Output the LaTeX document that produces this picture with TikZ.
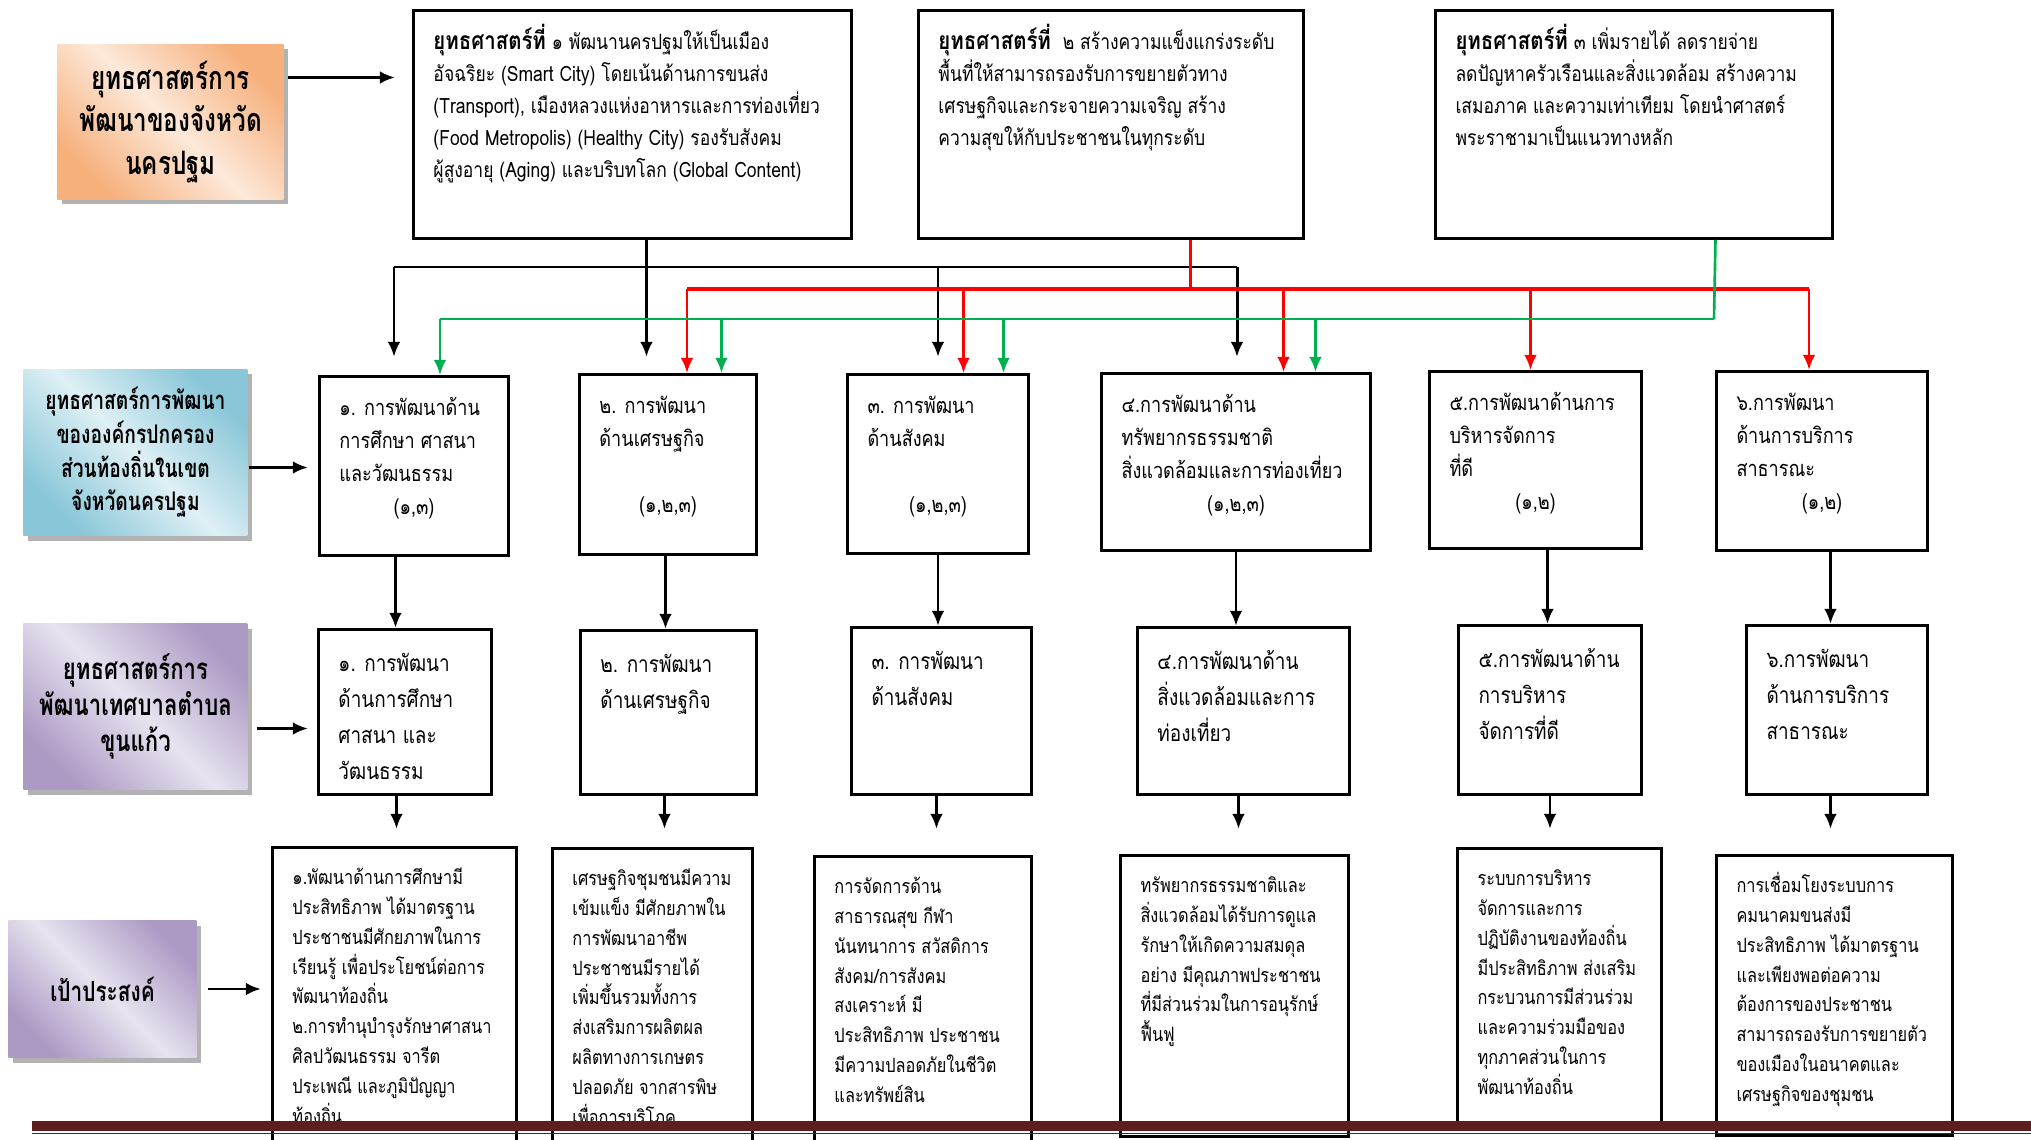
\documentclass[tikz,border=0pt]{standalone}
\usepackage{fontspec}
\usepackage{tikz}
\usetikzlibrary{arrows.meta,shadows}
\newfontfamily\thaifont[Script=Thai,FakeStretch=0.83]{Loma}
\newfontfamily\platefont[Script=Thai,FakeStretch=0.75]{Loma}
\newcommand{\boxtxt}[3]{\parbox[c][#2][t]{#1}{\strut\begin{tabular}[t]{@{}l@{}}#3\end{tabular}}}
\definecolor{peach}{RGB}{246,176,124}
\definecolor{peachlt}{RGB}{253,233,218}
\definecolor{sky}{RGB}{136,198,216}
\definecolor{skylt}{RGB}{222,240,245}
\definecolor{lilac}{RGB}{172,154,196}
\definecolor{lilaclt}{RGB}{232,227,240}
\definecolor{bandbrown}{RGB}{94,30,30}
\definecolor{linkred}{RGB}{255,0,0}
\definecolor{linkgreen}{RGB}{0,176,80}
\tikzset{
	box/.style={draw,anchor=north west,inner xsep=0.2cm,inner ysep=0.16cm},
	topbox/.style={box,inner ysep=0.14cm,font=\thaifont\fontsize{6}{9.1}\selectfont},
	midbox/.style={box,font=\thaifont\fontsize{6.2}{9.4}\selectfont},
	subbox/.style={box,inner ysep=0.17cm,font=\thaifont\fontsize{6.5}{10.2}\selectfont},
	aimbox/.style={box,font=\thaifont\fontsize{5.6}{8.5}\selectfont},
	plate/.style={anchor=north west,align=center,drop shadow={shadow xshift=0.5mm,shadow yshift=-0.5mm,fill=black!30,opacity=1},font=\platefont\bfseries\fontsize{7.3}{9.6}\selectfont},
	redlink/.style={draw=linkred,line width=0.75pt},
	greenlink/.style={draw=linkgreen,line width=0.75pt}
}
\begin{document}
\begin{tikzpicture}[line width=0.85pt,>={Latex[length=4.3pt,width=3.6pt]}]
	\useasboundingbox (0,0) rectangle (20.31,-11.40);
	%LEFT PLATES
	\node[plate,top color=peach,bottom color=peach,middle color=peachlt,shading angle=-45,minimum width=2.26cm,minimum height=1.55cm,font=\platefont\bfseries\fontsize{9.2}{12}\selectfont] (plan) at (0.56,-0.43) {ยุทธศาสตร์การ\\พัฒนาของจังหวัด\\นครปฐม};
	\node[plate,top color=sky,bottom color=sky,middle color=skylt,shading angle=-45,minimum width=2.24cm,minimum height=1.66cm] (local) at (0.22,-3.68) {ยุทธศาสตร์การพัฒนา\\ขององค์กรปกครอง\\ส่วนท้องถิ่นในเขต\\จังหวัดนครปฐม};
	\node[plate,top color=lilac,bottom color=lilac,middle color=lilaclt,shading angle=-45,minimum width=2.24cm,minimum height=1.66cm,font=\platefont\bfseries\fontsize{8.4}{10.2}\selectfont] (town) at (0.22,-6.22) {ยุทธศาสตร์การ\\พัฒนาเทศบาลตำบล\\ขุนแก้ว};
	\node[plate,top color=lilac,bottom color=lilac,middle color=lilaclt,shading angle=-45,minimum width=1.88cm,minimum height=1.37cm,font=\platefont\bfseries\fontsize{7.9}{10}\selectfont] (goal) at (0.07,-9.19) {เป้าประสงค์};
	
	%STRATEGIES
	\node[topbox] (s1) at (4.12,-0.09) {\boxtxt{3.98cm}{2.0cm}{{\bfseries\fontsize{7}{9.1}\selectfont ยุทธศาสตร์ที่} ๑ พัฒนานครปฐมให้เป็นเมือง\\อัจฉริยะ (Smart City) โดยเน้นด้านการขนส่ง\\(Transport), เมืองหลวงแห่งอาหารและการท่องเที่ยว\\(Food Metropolis) (Healthy City) รองรับสังคม\\ผู้สูงอายุ (Aging) และบริบทโลก (Global Content)}};
	\node[topbox] (s2) at (9.17,-0.09) {\boxtxt{3.45cm}{2.0cm}{{\bfseries\fontsize{7}{9.1}\selectfont ยุทธศาสตร์ที่}\ \ ๒ สร้างความแข็งแกร่งระดับ\\พื้นที่ให้สามารถรองรับการขยายตัวทาง\\เศรษฐกิจและกระจายความเจริญ สร้าง\\ความสุขให้กับประชาชนในทุกระดับ}};
	\node[topbox] (s3) at (14.34,-0.09) {\boxtxt{3.57cm}{2.0cm}{{\bfseries\fontsize{7}{9.1}\selectfont ยุทธศาสตร์ที่} ๓ เพิ่มรายได้ ลดรายจ่าย\\ลดปัญหาครัวเรือนและสิ่งแวดล้อม สร้างความ\\เสมอภาค และความเท่าเทียม โดยนำศาสตร์\\พระราชามาเป็นแนวทางหลัก}};
	
	%LOCAL STRATEGIES
	\node[midbox] (r2a) at (3.18,-3.75) {\boxtxt{1.49cm}{1.47cm}{๑. การพัฒนาด้าน\\การศึกษา ศาสนา\\และวัฒนธรรม\\\makebox[1.49cm]{(๑,๓)}}};
	\node[midbox] (r2b) at (5.78,-3.73) {\boxtxt{1.37cm}{1.48cm}{๒. การพัฒนา\\ด้านเศรษฐกิจ\\\mbox{}\\\makebox[1.37cm]{(๑,๒,๓)}}};
	\node[midbox] (r2c) at (8.46,-3.73) {\boxtxt{1.41cm}{1.47cm}{๓. การพัฒนา\\ด้านสังคม\\\mbox{}\\\makebox[1.41cm]{(๑,๒,๓)}}};
	\node[midbox] (r2d) at (11.00,-3.72) {\boxtxt{2.29cm}{1.45cm}{๔.การพัฒนาด้าน\\ทรัพยากรธรรมชาติ\\สิ่งแวดล้อมและการท่องเที่ยว\\\makebox[2.29cm]{(๑,๒,๓)}}};
	\node[midbox] (r2e) at (14.28,-3.70) {\boxtxt{1.72cm}{1.45cm}{๕.การพัฒนาด้านการ\\บริหารจัดการ\\ที่ดี\\\makebox[1.72cm]{(๑,๒)}}};
	\node[midbox] (r2f) at (17.15,-3.70) {\boxtxt{1.71cm}{1.47cm}{๖.การพัฒนา\\ด้านการบริการ\\สาธารณะ\\\makebox[1.71cm]{(๑,๒)}}};
	
	%TOWN STRATEGIES
	\node[subbox] (r3a) at (3.17,-6.28) {\boxtxt{1.33cm}{1.31cm}{๑. การพัฒนา\\ด้านการศึกษา\\ศาสนา และ\\วัฒนธรรม}};
	\node[subbox] (r3b) at (5.79,-6.29) {\boxtxt{1.36cm}{1.30cm}{๒. การพัฒนา\\ด้านเศรษฐกิจ}};
	\node[subbox] (r3c) at (8.50,-6.26) {\boxtxt{1.40cm}{1.33cm}{๓. การพัฒนา\\ด้านสังคม}};
	\node[subbox] (r3d) at (11.36,-6.26) {\boxtxt{1.72cm}{1.33cm}{๔.การพัฒนาด้าน\\สิ่งแวดล้อมและการ\\ท่องเที่ยว}};
	\node[subbox] (r3e) at (14.57,-6.24) {\boxtxt{1.43cm}{1.35cm}{๕.การพัฒนาด้าน\\การบริหาร\\จัดการที่ดี}};
	\node[subbox] (r3f) at (17.45,-6.24) {\boxtxt{1.41cm}{1.35cm}{๖.การพัฒนา\\ด้านการบริการ\\สาธารณะ}};
	
	%GOALS
	\node[aimbox] (r4a) at (2.71,-8.46) {\boxtxt{2.04cm}{2.82cm}{๑.พัฒนาด้านการศึกษามี\\ประสิทธิภาพ ได้มาตรฐาน\\ประชาชนมีศักยภาพในการ\\เรียนรู้ เพื่อประโยชน์ต่อการ\\พัฒนาท้องถิ่น\\๒.การทำนุบำรุงรักษาศาสนา\\ศิลปวัฒนธรรม จารีต\\ประเพณี และภูมิปัญญา\\ท้องถิ่น}};
	\node[aimbox] (r4b) at (5.51,-8.47) {\boxtxt{1.60cm}{2.82cm}{เศรษฐกิจชุมชนมีความ\\เข้มแข็ง มีศักยภาพใน\\การพัฒนาอาชีพ\\ประชาชนมีรายได้\\เพิ่มขึ้นรวมทั้งการ\\ส่งเสริมการผลิตผล\\ผลิตทางการเกษตร\\ปลอดภัย จากสารพิษ\\เพื่อการบริโภค}};
	\node[aimbox] (r4c) at (8.13,-8.55) {\boxtxt{1.77cm}{2.74cm}{การจัดการด้าน\\สาธารณสุข กีฬา\\นันทนาการ สวัสดิการ\\สังคม/การสังคม\\สงเคราะห์ มี\\ประสิทธิภาพ ประชาชน\\มีความปลอดภัยในชีวิต\\และทรัพย์สิน}};
	\node[aimbox] (r4d) at (11.19,-8.54) {\boxtxt{1.88cm}{2.49cm}{ทรัพยากรธรรมชาติและ\\สิ่งแวดล้อมได้รับการดูแล\\รักษาให้เกิดความสมดุล\\อย่าง มีคุณภาพประชาชน\\ที่มีส่วนร่วมในการอนุรักษ์\\ฟื้นฟู}};
	\node[aimbox] (r4e) at (14.56,-8.47) {\boxtxt{1.64cm}{2.48cm}{ระบบการบริหาร\\จัดการและการ\\ปฏิบัติงานของท้องถิ่น\\มีประสิทธิภาพ ส่งเสริม\\กระบวนการมีส่วนร่วม\\และความร่วมมือของ\\ทุกภาคส่วนในการ\\พัฒนาท้องถิ่น}};
	\node[aimbox] (r4f) at (17.15,-8.54) {\boxtxt{1.96cm}{2.48cm}{การเชื่อมโยงระบบการ\\คมนาคมขนส่งมี\\ประสิทธิภาพ ได้มาตรฐาน\\และเพียงพอต่อความ\\ต้องการของประชาชน\\สามารถรองรับการขยายตัว\\ของเมืองในอนาคตและ\\เศรษฐกิจของชุมชน}};
	
	%LEFT ARROWS
	\draw[->,shorten <=0.3mm,shorten >=1.7mm] ([yshift=4.45mm]plan.east)--([yshift=4.45mm]plan.east -| s1.west);
	\draw[->,shorten >=1mm] ([yshift=-1.5mm]local.east)--([yshift=-1.5mm]local.east -| r2a.west);
	\draw[->,shorten <=0.8mm,shorten >=0.9mm] ([yshift=-2.2mm]town.east)--([yshift=-2.2mm]town.east -| r3a.west);
	\draw[->,shorten <=1mm,shorten >=1mm] (goal.east)--(goal.east -| r4a.west);
	
	%STRATEGY 1
	\coordinate (k1) at (3.94,-2.67);
	\coordinate (k2) at (12.37,-2.67);
	\draw (k1)--(k2);
	\draw[->,shorten >=1.6mm] ([xshift=1.4mm]s1.south)--([xshift=1.4mm]s1.south |- r2b.north);
	\draw[->,shorten >=1.8mm] (k1)--(k1 |- r2a.north);
	\draw[->,shorten >=1.6mm] (r2c.north |- k1)--(r2c.north);
	\draw[->,shorten >=1.5mm] (k2)--(k2 |- r2d.north);
	
	%STRATEGY 2
	\coordinate (rd1) at (6.87,-2.89);
	\coordinate (rd2) at (18.09,-2.89);
	\draw[redlink,line width=1.1pt] (rd1)--(rd2);
	\draw[redlink] ([xshift=7.95mm]s2.south)--([xshift=7.95mm]s2.south |- rd1);
	\draw[redlink,->] (rd1)--(rd1 |- r2b.north);
	\draw[redlink,->] ([xshift=2.55mm]r2c.north |- rd1)--([xshift=2.55mm]r2c.north);
	\draw[redlink,->] ([xshift=4.75mm]r2d.north |- rd1)--([xshift=4.75mm]r2d.north);
	\draw[redlink,->] ([xshift=-0.5mm]r2e.north |- rd1)--([xshift=-0.5mm]r2e.north);
	\draw[redlink,->] (rd2)--(rd2 |- r2f.north);
	
	%STRATEGY 3
	\coordinate (g1) at (4.40,-3.19);
	\coordinate (g2) at (17.14,-3.19);
	\draw[greenlink] (g1)--(g2);
	\draw[greenlink] ([xshift=8.15mm]s3.south)--(g2);
	\draw[greenlink,->] (g1)--(g1 |- r2a.north);
	\draw[greenlink,->] ([xshift=5.35mm]r2b.north |- g1)--([xshift=5.35mm]r2b.north);
	\draw[greenlink,->] ([xshift=6.55mm]r2c.north |- g1)--([xshift=6.55mm]r2c.north);
	\draw[greenlink,->] ([xshift=7.95mm]r2d.north |- g1)--([xshift=7.95mm]r2d.north);
	
	%DOWN ARROWS
	\draw[->] ([xshift=-1.85mm]r2a.south)--([xshift=-1.85mm]r2a.south |- r3a.north);
	\draw[->] ([xshift=-0.25mm]r2b.south)--([xshift=-0.25mm]r2b.south |- r3b.north);
	\draw[->] (r2c.south)--(r2c.south |- r3c.north);
	\draw[->] (r2d.south)--(r2d.south |- r3d.north);
	\draw[->] ([xshift=1.2mm]r2e.south)--([xshift=1.2mm]r2e.south |- r3e.north);
	\draw[->] ([xshift=0.85mm]r2f.south)--([xshift=0.85mm]r2f.south |- r3f.north);
	\draw[->,shorten >=1.7mm] ([xshift=-0.85mm]r3a.south)--([xshift=-0.85mm]r3a.south |- r4a.north);
	\draw[->,shorten >=1.8mm] ([xshift=-0.4mm]r3b.south)--([xshift=-0.4mm]r3b.south |- r4b.north);
	\draw[->,shorten >=2.6mm] ([xshift=-0.5mm]r3c.south)--([xshift=-0.5mm]r3c.south |- r4c.north);
	\draw[->,shorten >=2.5mm] ([xshift=-0.5mm]r3d.south)--([xshift=-0.5mm]r3d.south |- r4d.north);
	\draw[->,shorten >=1.8mm] (r3e.south)--(r3e.south |- r4e.north);
	\draw[->,shorten >=2.5mm] ([xshift=-0.65mm]r3f.south)--([xshift=-0.65mm]r3f.south |- r4f.north);
	
	%BOTTOM RULE
	\fill[bandbrown] (0.32,-11.21) rectangle (20.31,-11.31);
	\draw[bandbrown,line width=0.5pt] (0.32,-11.335)--(20.31,-11.335);
\end{tikzpicture}
\end{document}
